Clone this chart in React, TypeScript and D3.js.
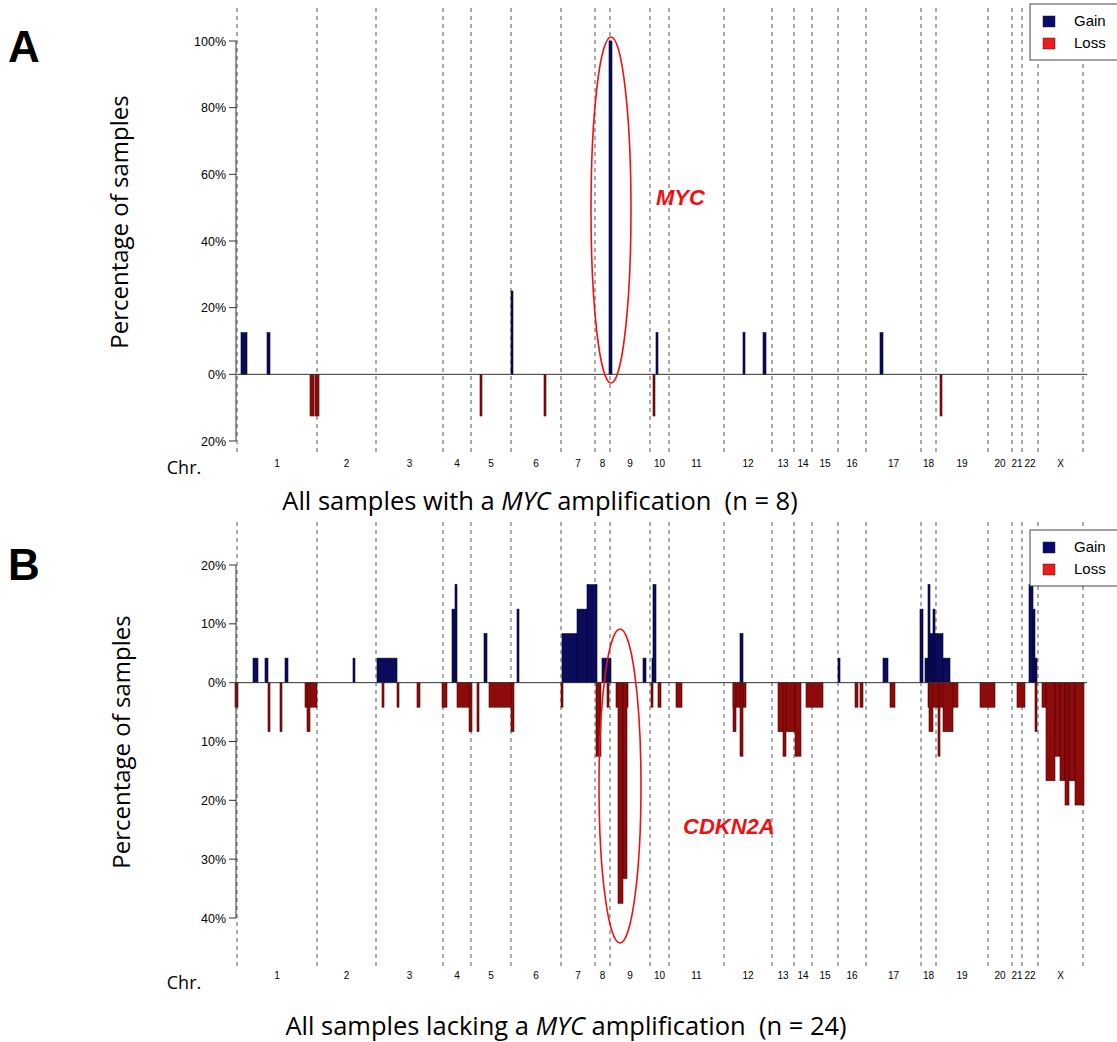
import React from "react";
import * as d3 from "d3";

// genome coordinate (arbitrary units along concatenated genome)
const chrBounds = [0, 80, 139, 206, 234, 274, 324, 358, 373, 413, 432, 487, 535, 557, 575, 601, 629, 684, 699, 751, 775, 785, 801, 846];
const chrNames = ["1","2","3","4","5","6","7","8","9","10","11","12","13","14","15","16","17","18","19","20","21","22","X"];

// segments: [start, end, percent]
const gainA: [number, number, number][] = [
  [4, 10, 12.5], [30, 33, 12.5], [274, 276, 25], [372, 375, 100], [419, 421, 12.5], [506, 508, 12.5], [526, 529, 12.5], [643, 646, 12.5],
];
const lossA: [number, number, number][] = [
  [73, 77, 12.5], [78, 82, 12.5], [243, 245, 12.5], [307, 309, 12.5], [416, 418, 12.5], [703, 705, 12.5],
];
const gainB: [number, number, number][] = [
  [16, 21, 4.17], [28, 31, 4.17], [48, 51, 4.17], [116, 118, 4.17], [140, 160, 4.17],
  [215, 218, 12.5], [218, 220, 16.67], [247, 250, 8.33], [280, 282, 12.5],
  [325, 340, 8.33], [340, 350, 12.5], [350, 360, 16.67], [365, 374, 4.17],
  [406, 409, 4.17], [415, 416, 4.17], [416, 419, 16.67],
  [503, 506, 8.33], [601, 603, 4.17], [646, 651, 4.17],
  [683, 686, 12.5], [688, 691, 4.17], [691, 693, 16.67], [693, 696, 8.33], [696, 698, 12.5], [698, 706, 8.33], [706, 713, 4.17],
  [792, 796, 16.67], [796, 798, 12.5], [798, 800, 4.17],
];
const lossB: [number, number, number][] = [
  [-2, 1, 4.17], [31, 33, 8.33], [43, 45, 8.33], [68, 80, 4.17], [70, 73, 8.33],
  [145, 147, 4.17], [160, 162, 4.17], [180, 183, 4.17], [205, 210, 4.17],
  [220, 233, 4.17], [232, 235, 8.33], [240, 242, 8.33], [252, 276, 4.17], [274, 277, 8.33],
  [324, 326, 4.17], [359, 364, 12.5], [370, 372, 4.17], [379, 391, 4.17],
  [381, 386, 37.5], [386, 390, 33.3], [414, 416, 4.17], [421, 424, 4.17],
  [439, 445, 4.17], [496, 509, 4.17], [496, 499, 8.33], [503, 506, 12.5],
  [541, 558, 8.33], [546, 549, 12.5], [558, 564, 12.5],
  [569, 586, 4.17], [618, 621, 4.17], [623, 626, 4.17], [653, 658, 4.17],
  [691, 721, 4.17], [692, 696, 8.33], [701, 703, 12.5], [706, 716, 8.33],
  [743, 758, 4.17], [780, 788, 4.17], [798, 800, 8.33],
  [805, 809, 4.17], [809, 818, 16.67], [818, 823, 12.5], [823, 828, 16.67], [828, 832, 20.8], [832, 838, 16.67], [838, 847, 20.8],
];
const ticksA = [100, 80, 60, 40, 20, 0, -20];
const ticksB = [20, 10, 0, -10, -20, -30, -40];

const GAIN = "#0b0b5c";
const LOSS = "#8e0b0b";
const font = "Liberation Sans, Arial, sans-serif";
const font2 = "Open Sans, Noto Sans, sans-serif";

function Panel({ gain, loss, yTop, yBot, maxV, minV, ticks, lineTop, lineBot, chrY, chrLabelY, ylabY, ylabX, letter, letterX, letterY, legendY, ellipse, gene, geneX, geneY, title, titleX, titleY }: any) {
  const x = d3.scaleLinear().domain([0, 850]).range([237, 1087]);
  const y = d3.scaleLinear().domain([maxV, minV]).range([yTop, yBot]);
  const bar = (s: [number, number, number], i: number, c: string, sign: number) => {
    const y0 = y(0), y1 = y(sign * s[2]);
    return <rect key={c + i} x={x(s[0])} width={Math.max(1, x(s[1]) - x(s[0]))} y={Math.min(y0, y1)} height={Math.abs(y1 - y0)} fill={c} stroke={sign > 0 ? "#050530" : "#4a0505"} strokeWidth={0.6} />;
  };
  return (
    <g>
      {chrBounds.map((b, i) => <line key={"b" + i} x1={x(b)} x2={x(b)} y1={lineTop} y2={lineBot} stroke="#555" strokeDasharray="4,4" strokeWidth={1} />)}
      {chrNames.map((n, i) => <text key={"c" + i} x={x((chrBounds[i] + chrBounds[i + 1]) / 2)} y={chrY} fontSize={10} textAnchor="middle" fontFamily={font}>{n}</text>)}
      <text x={184} y={chrLabelY} fontSize={18} fontFamily={font2} textAnchor="middle">Chr.</text>
      {gain.map((s: any, i: number) => bar(s, i, GAIN, 1))}
      {loss.map((s: any, i: number) => bar(s, i, LOSS, -1))}
      <line x1={x(0)} x2={1087} y1={y(0)} y2={y(0)} stroke="#333" strokeWidth={1} />
      <line x1={236} x2={236} y1={y(ticks[0])} y2={y(ticks[ticks.length - 1])} stroke="#333" />
      {ticks.map((t: number) => (
        <g key={t}>
          <line x1={229} x2={236} y1={y(t)} y2={y(t)} stroke="#333" />
          <text x={226} y={y(t) + 4.5} fontSize={12.5} textAnchor="end" fontFamily={font}>{Math.abs(t)}%</text>
        </g>
      ))}
      <text transform={`translate(${ylabX},${ylabY}) rotate(-90)`} fontSize={24} textAnchor="middle" fontFamily={font2}>Percentage of samples</text>
      <text x={letterX} y={letterY} fontSize={44} fontWeight="bold" fontFamily={font}>{letter}</text>
      <ellipse cx={ellipse[0]} cy={ellipse[1]} rx={ellipse[2]} ry={ellipse[3]} fill="none" stroke="#ee1111" strokeWidth={1.6} />
      <text x={geneX} y={geneY} fontSize={22} fontWeight="bold" fontStyle="italic" fill="#ee1111" fontFamily={font}>{gene}</text>
      <g transform={`translate(1030,${legendY})`}>
        <rect x={0} y={0} width={90} height={56} fill="white" stroke="#444" />
        <rect x={13} y={12} width={12} height={11} fill="#0a0a6e" stroke="#222" strokeWidth={0.5} />
        <rect x={13} y={34} width={12} height={11} fill="#ee1c1c" stroke="#222" strokeWidth={0.5} />
        <text x={44} y={22} fontSize={15} fontFamily={font}>Gain</text>
        <text x={44} y={44} fontSize={15} fontFamily={font}>Loss</text>
      </g>
      <text x={titleX} y={titleY} fontSize={25.5} textAnchor="middle" fontFamily={font2} style={{ whiteSpace: "pre" }}>
        {title[0]}<tspan fontStyle="italic">MYC</tspan>{title[1]}
      </text>
    </g>
  );
}

export default function App() {
  return (
    <svg width={1117} height={1042} style={{ position: "absolute", left: 0, top: 0, background: "white" }}>
      <rect width={1117} height={1042} fill="white" />
      <Panel gain={gainA} loss={lossA} yTop={41} yBot={441} maxV={100} minV={-20} ticks={ticksA}
        lineTop={8} lineBot={455} chrY={467} chrLabelY={474} ylabX={128} ylabY={222} letter="A" letterX={8} letterY={62} legendY={4}
        ellipse={[611, 210, 20, 173]} gene="MYC" geneX={656} geneY={205}
        title={["All samples with a ", " amplification\u00a0\u00a0(n = 8)"]} titleX={540} titleY={510} />
      <Panel gain={gainB} loss={lossB} yTop={565} yBot={918} maxV={20} minV={-40} ticks={ticksB}
        lineTop={522} lineBot={968} chrY={979} chrLabelY={989} ylabX={130} ylabY={742} letter="B" letterX={8} letterY={580} legendY={530}
        ellipse={[620, 786, 21, 157]} gene="CDKN2A" geneX={683} geneY={834}
        title={["All samples lacking a ", " amplification\u00a0\u00a0(n = 24)"]} titleX={566} titleY={1035} />
    </svg>
  );
}
